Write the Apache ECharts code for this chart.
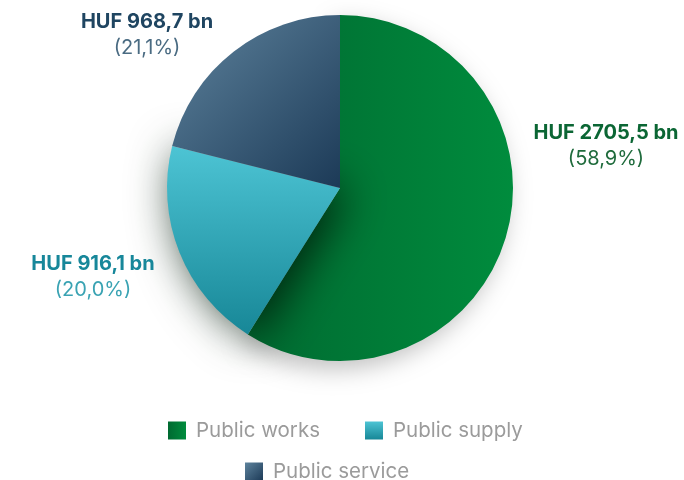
<!DOCTYPE html>
<html>
<head>
<meta charset="utf-8">
<script src="https://cdn.jsdelivr.net/npm/echarts@6/dist/echarts.min.js"></script>
<style>
  html, body { margin: 0; padding: 0; background: #fff; }
  #chart { width: 684px; height: 480px; }
</style>
</head>
<body>
<div id="chart"></div>
<script>
// data
const categories = ['Public works', 'Public supply', 'Public service']
const values = [2705.5, 916.1, 968.7]

// styles per slice
const gradients = [
  [0, 0, 1, 0, '#006a31', '#008c3d'],
  [0, 0, 0, 1, '#4dc4d4', '#178797'],
  [0, 0, 1, 1, '#5e839d', '#1c3a57']
]
const labelColors = [['#0b6634', '#1f6b3c'], ['#17879a', '#3aa3b3'], ['#1f4561', '#4a6b82']]
const labelPos = [[606, 146], [93, 277], [147, 35]]
const shadows = [
  { shadowColor: 'rgba(0,0,0,0.25)', shadowBlur: 25, shadowOffsetX: -6, shadowOffsetY: 8 },
  { shadowColor: 'rgba(0,25,8,0.85)', shadowBlur: 45, shadowOffsetX: 8, shadowOffsetY: 4 },
  {}
]

function grad(g) {
  return new echarts.graphic.LinearGradient(g[0], g[1], g[2], g[3], [
    { offset: 0, color: g[4] },
    { offset: 1, color: g[5] }
  ])
}

function fmt(v) {
  return v.toFixed(1).replace('.', ',')
}

let chart = echarts.init(document.getElementById('chart'))

let seriesData = categories.map((name, i) => ({
  name: name,
  value: values[i],
  itemStyle: Object.assign({ color: grad(gradients[i]) }, shadows[i]),
  label: {
    rich: {
      a: { color: labelColors[i][0], fontWeight: 'bold', fontSize: 20, lineHeight: 26, fontFamily: 'Inter' },
      b: { color: labelColors[i][1], fontSize: 20, lineHeight: 26, fontFamily: 'Inter' }
    }
  }
}))

let legendText = { color: '#9b9b9b', fontSize: 20.5, fontFamily: 'Inter', padding: [0, 0, 0, 5] }

let option = {
  animation: false,
  legend: [
    {
      data: categories.slice(0, 2),
      top: 415,
      left: 163,
      itemWidth: 18,
      itemHeight: 18,
      itemGap: 45,
      icon: 'rect',
      textStyle: legendText
    },
    {
      data: categories.slice(2),
      top: 456,
      left: 240,
      itemWidth: 18,
      itemHeight: 18,
      icon: 'rect',
      textStyle: legendText
    }
  ],
  series: [{
    type: 'pie',
    center: [340, 188],
    radius: 173,
    startAngle: 90,
    percentPrecision: 1,
    labelLine: { show: false },
    label: {
      show: true,
      position: 'outside',
      overflow: 'none',
      formatter: p => '{a|HUF ' + fmt(p.value) + ' bn}\n{b|(' + fmt(p.percent) + '%)}',
      align: 'center'
    },
    labelLayout: function (params) {
      let pos = labelPos[params.dataIndex]
      return { x: pos[0], y: pos[1], align: 'center', verticalAlign: 'middle' }
    },
    emphasis: { disabled: true },
    data: seriesData
  }]
}

chart.setOption(option)
</script>
</body>
</html>
